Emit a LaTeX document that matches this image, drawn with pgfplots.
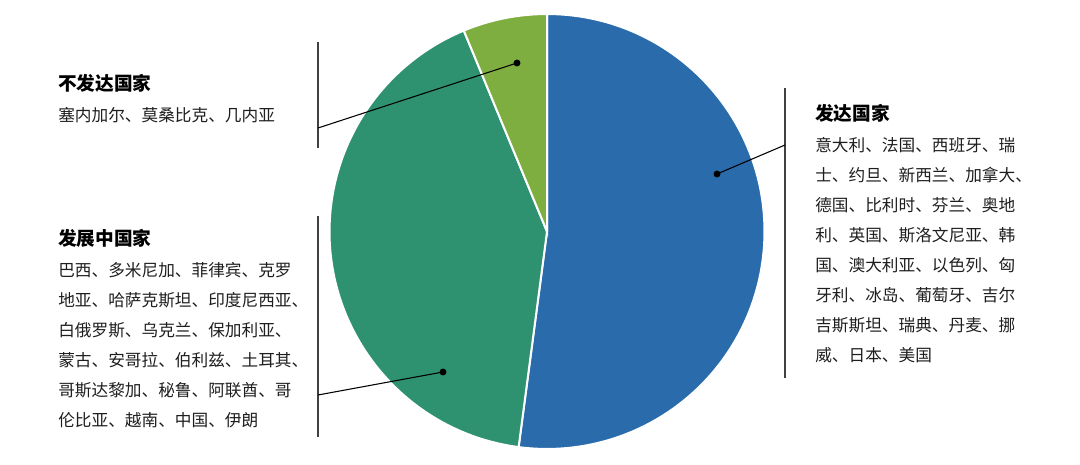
\documentclass[border=0pt]{standalone}
\usepackage{pgfplots}
\pgfplotsset{compat=1.18}
\usepackage{pgfplotstable}
\usepackage{fontspec}
\setmainfont{Noto Sans CJK SC}

\definecolor{cBlue}{HTML}{2A6BAC}
\definecolor{cTeal}{HTML}{2E9271}
\definecolor{cLime}{HTML}{7FAE40}
\definecolor{cText}{HTML}{1E1E1E}

% number of countries in each group
\pgfplotstableread{
group value
developed 25
developing 20
least 3
}\sharetable

\begin{document}
\begin{tikzpicture}[
    body/.style={anchor=west, inner sep=0pt, text=cText, font=\fontsize{12.5pt}{15pt}\selectfont},
    head/.style={anchor=west, inner sep=0pt, text=black, font=\fontsize{14pt}{16pt}\selectfont\bfseries},
]
\pgfplotstablegetelem{0}{value}\of\sharetable \let\va\pgfplotsretval
\pgfplotstablegetelem{1}{value}\of\sharetable \let\vb\pgfplotsretval
\pgfplotstablegetelem{2}{value}\of\sharetable \let\vc\pgfplotsretval
\pgfmathsetmacro{\tot}{\va+\vb+\vc}
\pgfmathsetmacro{\aA}{90-360*\va/\tot}
\pgfmathsetmacro{\aB}{\aA-360*\vb/\tot}
\pgfmathsetmacro{\aC}{\aB-360*\vc/\tot}
\def\R{163.1pt}
\begin{axis}[
    x=0.75pt, y=0.75pt,
    xmin=0, xmax=1080, ymin=0, ymax=464,
    hide axis, clip=false,
]
% full canvas
\path (axis cs:0,0) rectangle (axis cs:1080,464);
% slices
\fill[cBlue, draw=white, line width=1.5pt] (axis cs:547,232.5) -- ++(90:\R)
    arc[start angle=90, end angle=\aA, radius=\R] -- cycle;
\fill[cTeal, draw=white, line width=1.5pt] (axis cs:547,232.5) -- ++(\aA:\R)
    arc[start angle=\aA, end angle=\aB, radius=\R] -- cycle;
\fill[cLime, draw=white, line width=1.5pt] (axis cs:547,232.5) -- ++(\aB:\R)
    arc[start angle=\aB, end angle=\aC, radius=\R] -- cycle;

% brackets and leaders
\draw[black!75, line width=0.8pt] (axis cs:318,422) -- (axis cs:318,316);
\draw[black!75, line width=0.8pt] (axis cs:318,248) -- (axis cs:318,27);
\draw[black!75, line width=0.8pt] (axis cs:785,376) -- (axis cs:785,86);
\draw[black, line width=0.8pt] (axis cs:318,336) -- (axis cs:517,401);
\draw[black, line width=0.8pt] (axis cs:318,69) -- (axis cs:443,92);
\draw[black, line width=0.8pt] (axis cs:785,319) -- (axis cs:717,290);
\fill[black] (axis cs:517,401) circle[radius=2.6pt];
\fill[black] (axis cs:443,92) circle[radius=2.6pt];
\fill[black] (axis cs:717,290) circle[radius=2.6pt];

% left top
\node[head] at (axis cs:58,381) {不发达国家};
\node[body] at (axis cs:58,349) {塞内加尔、莫桑比克、几内亚};
% left bottom
\node[head] at (axis cs:58,226) {发展中国家};
\node[body] at (axis cs:58,194) {巴西、多米尼加、菲律宾、克罗};
\node[body] at (axis cs:58,164) {地亚、哈萨克斯坦、印度尼西亚、};
\node[body] at (axis cs:58,134) {白俄罗斯、乌克兰、保加利亚、};
\node[body] at (axis cs:58,104) {蒙古、安哥拉、伯利兹、土耳其、};
\node[body] at (axis cs:58,74) {哥斯达黎加、秘鲁、阿联酋、哥};
\node[body] at (axis cs:58,44) {伦比亚、越南、中国、伊朗};
% right
\node[head] at (axis cs:815,351) {发达国家};
\node[body] at (axis cs:815,319) {意大利、法国、西班牙、瑞};
\node[body] at (axis cs:815,289) {士、约旦、新西兰、加拿大、};
\node[body] at (axis cs:815,259) {德国、比利时、芬兰、奥地};
\node[body] at (axis cs:815,229) {利、英国、斯洛文尼亚、韩};
\node[body] at (axis cs:815,199) {国、澳大利亚、以色列、匈};
\node[body] at (axis cs:815,169) {牙利、冰岛、葡萄牙、吉尔};
\node[body] at (axis cs:815,139) {吉斯斯坦、瑞典、丹麦、挪};
\node[body] at (axis cs:815,109) {威、日本、美国};
\end{axis}
\end{tikzpicture}
\end{document}
